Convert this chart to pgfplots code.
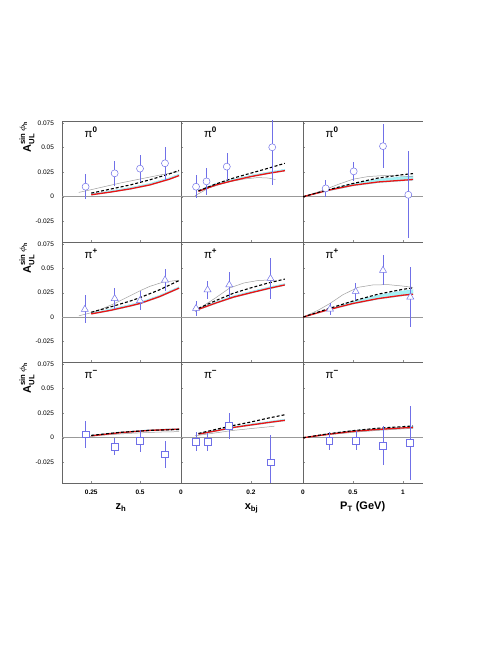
\documentclass[border=0pt]{standalone}
\usepackage{pgfplots}
\pgfplotsset{compat=1.18}
\usepackage{amsmath}
\usepackage{fontspec}
\setmainfont{Liberation Sans}

\definecolor{datablue}{RGB}{112,112,232}
\definecolor{theored}{RGB}{235,20,20}
\definecolor{bandcyan}{RGB}{165,242,245}

\pgfplotsset{
  panel/.style={scale only axis, anchor=south west,
    ymin=-0.046, ymax=0.077, scaled y ticks=false, scaled x ticks=false,
    ytick={-0.025,0,0.025,0.05,0.075}, yticklabels={}, xticklabels={},
    tick pos=left, tick align=inside, major tick length=2pt,
    axis line style={black!60, line width=0.8pt},
    tick style={black!45, line width=0.4pt},
    yticklabel style={font=\fontsize{6.5}{7}\selectfont, xshift=-4.5pt},
    xticklabel style={font=\bfseries\fontsize{6.5}{7}\selectfont, yshift=-3pt},
    clip=true},
  zcol/.style={xmin=0.1, xmax=0.71, xtick={0.25,0.5}, width=119pt},
  xcol/.style={xmin=0, xmax=0.349, xtick={0,0.2}, width=122pt},
  pcol/.style={xmin=0, xmax=1.2, xtick={0,0.5,1}, width=120pt,
    axis y line*=left, y axis line style={-}},
  ylab/.style={yticklabels={-0.025,0,0.025,0.05,0.075}},
  gline/.style={gray!75, line width=0.5pt, no marks},
  rline/.style={theored, line width=1.3pt, no marks},
  dline/.style={black, line width=1.1pt, dash pattern=on 3pt off 2pt, no marks},
  band/.style={fill=bandcyan, draw=cyan!60, densely dotted, line width=0.4pt, no marks},
  zline/.style={gray!80, line width=0.7pt, no marks},
  pts/.style={only marks, mark options={draw=datablue, fill=white, line width=0.5pt, solid},
    error bars/.cd, y dir=both, y explicit, error mark=none,
    error bar style={datablue, line width=0.55pt}},
}
\newcommand{\plab}[1]{\node[anchor=base west, font=\fontsize{11.5}{12}\selectfont] at (rel axis cs:0.16,0.865) {π\textsuperscript{\bfseries #1}};}

\begin{document}
\begin{tikzpicture}
\fill[white] (0,0) rectangle (498pt,645pt);
\path[use as bounding box] (0,0) rectangle (498pt,645pt);

% ---------------- row 1: pi0 ----------------
\begin{axis}[panel, zcol, ylab, at={(62pt,403pt)}, height=121pt]
  \addplot[zline] coordinates {(0.1,0)(0.71,0)};
  \addplot[band] coordinates {(0.25,0.0030)(0.35,0.0062)(0.45,0.0095)(0.55,0.0137)(0.65,0.0195)(0.70,0.0232)
    (0.70,0.0210)(0.65,0.0173)(0.55,0.0115)(0.45,0.0075)(0.35,0.0043)(0.25,0.0015)};
  \addplot[gline] coordinates {(0.186,0.0044)(0.25,0.0072)(0.30,0.0095)(0.40,0.0140)(0.50,0.0180)(0.60,0.0220)(0.70,0.0255)};
  \addplot[rline] coordinates {(0.25,0.0020)(0.35,0.0048)(0.45,0.0080)(0.55,0.0120)(0.65,0.0178)(0.70,0.0215)};
  \addplot[dline] coordinates {(0.25,0.0037)(0.35,0.0078)(0.45,0.0120)(0.55,0.0172)(0.65,0.0232)(0.70,0.0268)};
  \addplot[mark=*, mark size=3.5pt, pts] coordinates {
    (0.221,0.0102) +- (0,0.0128) (0.37,0.0238) +- (0,0.0124)
    (0.50,0.0286) +- (0,0.0140) (0.628,0.0340) +- (0,0.0170)};
  \plab{0}
\end{axis}

\begin{axis}[panel, xcol, at={(181pt,403pt)}, height=121pt]
  \addplot[zline] coordinates {(0,0)(0.349,0)};
  \addplot[band] coordinates {(0.05,0.0065)(0.10,0.0135)(0.15,0.0180)(0.20,0.0220)(0.25,0.0253)(0.297,0.0280)
    (0.297,0.0260)(0.25,0.0233)(0.20,0.0200)(0.15,0.0160)(0.10,0.0115)(0.05,0.0050)};
  \addplot[gline] coordinates {(0.04,0.0010)(0.08,0.0090)(0.13,0.0145)(0.18,0.0180)(0.22,0.0195)(0.25,0.0190)(0.27,0.0175)};
  \addplot[rline] coordinates {(0.05,0.0055)(0.10,0.0120)(0.15,0.0165)(0.20,0.0205)(0.25,0.0238)(0.297,0.0265)};
  \addplot[dline] coordinates {(0.05,0.0060)(0.10,0.0130)(0.15,0.0190)(0.20,0.0240)(0.25,0.0290)(0.297,0.0340)};
  \addplot[mark=*, mark size=3.5pt, pts] coordinates {
    (0.043,0.0102) +- (0,0.0118) (0.073,0.0156) +- (0,0.0135)
    (0.131,0.0306) +- (0,0.0136) (0.261,0.0503) +- (0,0.0380)};
  \plab{0}
\end{axis}

\begin{axis}[panel, pcol, at={(303pt,403pt)}, height=121pt]
  \addplot[zline] coordinates {(0,0)(1.2,0)};
  \addplot[band] coordinates {(0,0)(0.25,0.0072)(0.50,0.0135)(0.75,0.0180)(1.00,0.0205)(1.10,0.0212)
    (1.10,0.0167)(1.00,0.0160)(0.75,0.0142)(0.50,0.0109)(0.25,0.0057)(0,0)};
  \addplot[gline] coordinates {(0,0)(0.20,0.0065)(0.35,0.0125)(0.50,0.0178)(0.65,0.0205)(0.80,0.0215)(0.95,0.0212)(1.10,0.0205)};
  \addplot[rline] coordinates {(0,0)(0.25,0.0065)(0.50,0.0117)(0.75,0.0150)(1.00,0.0168)(1.10,0.0175)};
  \addplot[dline] coordinates {(0,0)(0.25,0.0070)(0.50,0.0135)(0.75,0.0190)(1.00,0.0225)(1.10,0.0235)};
  \addplot[mark=*, mark size=3.5pt, pts] coordinates {
    (0.227,0.0085) +- (0,0.0090) (0.507,0.0258) +- (0,0.0097)
    (0.80,0.0514) +- (0,0.0225) (1.053,0.0020) +- (0,0.0440)};
  \plab{0}
\end{axis}

% ---------------- row 2: pi+ ----------------
\begin{axis}[panel, zcol, ylab, at={(62pt,283pt)}, height=120pt]
  \addplot[zline] coordinates {(0.1,0)(0.71,0)};
  \addplot[band] coordinates {(0.25,0.0045)(0.35,0.0085)(0.45,0.0130)(0.50,0.0155)(0.60,0.0225)(0.70,0.0312)
    (0.70,0.0290)(0.60,0.0203)(0.50,0.0133)(0.45,0.0108)(0.35,0.0063)(0.25,0.0028)};
  \addplot[gline] coordinates {(0.186,0.0013)(0.25,0.0045)(0.30,0.0080)(0.37,0.0140)(0.45,0.0220)(0.50,0.0270)(0.55,0.0315)(0.62,0.0360)(0.70,0.0378)};
  \addplot[rline] coordinates {(0.25,0.0033)(0.35,0.0070)(0.45,0.0115)(0.50,0.0140)(0.60,0.0210)(0.70,0.0297)};
  \addplot[dline] coordinates {(0.25,0.0050)(0.35,0.0105)(0.45,0.0165)(0.50,0.0200)(0.60,0.0280)(0.70,0.0375)};
  \addplot[mark=triangle*, mark size=4pt, pts] coordinates {
    (0.217,0.0080) +- (0,0.0145) (0.37,0.0190) +- (0,0.0110)
    (0.50,0.0170) +- (0,0.0095) (0.628,0.0380) +- (0,0.0117)};
  \plab{+}
\end{axis}

\begin{axis}[panel, xcol, at={(181pt,283pt)}, height=120pt]
  \addplot[zline] coordinates {(0,0)(0.349,0)};
  \addplot[band] coordinates {(0.05,0.0090)(0.10,0.0158)(0.15,0.0220)(0.20,0.0265)(0.25,0.0308)(0.297,0.0345)
    (0.297,0.0323)(0.25,0.0286)(0.20,0.0243)(0.15,0.0198)(0.10,0.0138)(0.05,0.0073)};
  \addplot[gline] coordinates {(0.04,0.0056)(0.07,0.0130)(0.10,0.0200)(0.14,0.0300)(0.18,0.0350)(0.22,0.0375)(0.25,0.0380)(0.27,0.0370)};
  \addplot[rline] coordinates {(0.05,0.0080)(0.10,0.0145)(0.15,0.0205)(0.20,0.0250)(0.25,0.0293)(0.297,0.0330)};
  \addplot[dline] coordinates {(0.05,0.0090)(0.10,0.0170)(0.15,0.0245)(0.20,0.0300)(0.25,0.0350)(0.297,0.0390)};
  \addplot[mark=triangle*, mark size=4pt, pts] coordinates {
    (0.043,0.0090) +- (0,0.0080) (0.076,0.0280) +- (0,0.0090)
    (0.138,0.0330) +- (0,0.0130) (0.256,0.0396) +- (0,0.0210)};
  \plab{+}
\end{axis}

\begin{axis}[panel, pcol, at={(303pt,283pt)}, height=120pt]
  \addplot[zline] coordinates {(0,0)(1.2,0)};
  \addplot[band] coordinates {(0,0)(0.25,0.0080)(0.50,0.0160)(0.75,0.0225)(1.00,0.0270)(1.10,0.0282)
    (1.10,0.0227)(1.00,0.0217)(0.75,0.0182)(0.50,0.0132)(0.25,0.0067)(0,0)};
  \addplot[gline] coordinates {(0,0)(0.15,0.0070)(0.27,0.0140)(0.40,0.0230)(0.55,0.0305)(0.70,0.0330)(0.85,0.0333)(1.00,0.0318)(1.10,0.0305)};
  \addplot[rline] coordinates {(0,0)(0.25,0.0075)(0.50,0.0140)(0.75,0.0190)(1.00,0.0225)(1.10,0.0235)};
  \addplot[dline] coordinates {(0,0)(0.25,0.0085)(0.50,0.0165)(0.75,0.0235)(1.00,0.0285)(1.10,0.0300)};
  \addplot[mark=triangle*, mark size=4pt, pts] coordinates {
    (0.27,0.0083) +- (0,0.0060) (0.527,0.0263) +- (0,0.0090)
    (0.80,0.0480) +- (0,0.0155) (1.073,0.0206) +- (0,0.0310)};
  \plab{+}
\end{axis}

% ---------------- row 3: pi- ----------------
\begin{axis}[panel, zcol, ylab, at={(62pt,162pt)}, height=121pt,
    xticklabels={0.25,0.5}]
  \addplot[zline] coordinates {(0.1,0)(0.71,0)};
  \addplot[band] coordinates {(0.25,0.0028)(0.40,0.0060)(0.55,0.0083)(0.70,0.0096)
    (0.70,0.0082)(0.55,0.0069)(0.40,0.0046)(0.25,0.0015)};
  \addplot[gline] coordinates {(0.186,0.0000)(0.30,0.0025)(0.45,0.0045)(0.60,0.0058)(0.70,0.0062)};
  \addplot[rline] coordinates {(0.25,0.0020)(0.40,0.0052)(0.55,0.0075)(0.70,0.0088)};
  \addplot[dline] coordinates {(0.25,0.0024)(0.40,0.0055)(0.55,0.0075)(0.70,0.0084)};
  \addplot[mark=square*, mark size=3.3pt, pts] coordinates {
    (0.221,0.0034) +- (0,0.0137) (0.37,-0.0090) +- (0,0.0088)
    (0.50,-0.0030) +- (0,0.0110) (0.628,-0.0166) +- (0,0.0137)};
  \plab{−}
\end{axis}

\begin{axis}[panel, xcol, at={(181pt,162pt)}, height=121pt,
    xticklabels={0,0.2}]
  \addplot[zline] coordinates {(0,0)(0.349,0)};
  \addplot[band] coordinates {(0.05,0.0045)(0.10,0.0080)(0.15,0.0115)(0.20,0.0142)(0.25,0.0167)(0.297,0.0190)
    (0.297,0.0170)(0.25,0.0148)(0.20,0.0123)(0.15,0.0098)(0.10,0.0063)(0.05,0.0031)};
  \addplot[gline] coordinates {(0.04,0.0020)(0.15,0.0075)(0.267,0.0117)};
  \addplot[rline] coordinates {(0.05,0.0037)(0.10,0.0070)(0.15,0.0105)(0.20,0.0130)(0.25,0.0155)(0.297,0.0177)};
  \addplot[dline] coordinates {(0.05,0.0044)(0.10,0.0085)(0.15,0.0125)(0.20,0.0160)(0.25,0.0200)(0.297,0.0234)};
  \addplot[mark=square*, mark size=3.3pt, pts] coordinates {
    (0.043,-0.0040) +- (0,0.0095) (0.076,-0.0040) +- (0,0.0090)
    (0.137,0.0120) +- (0,0.0133) (0.256,-0.0250) +- (0,0.0280)};
  \plab{−}
\end{axis}

\begin{axis}[panel, pcol, at={(303pt,162pt)}, height=121pt,
    xticklabels={0,0.5,1}]
  \addplot[zline] coordinates {(0,0)(1.2,0)};
  \addplot[band] coordinates {(0,0)(0.25,0.0042)(0.50,0.0074)(0.75,0.0095)(1.00,0.0110)(1.10,0.0116)
    (1.10,0.0098)(1.00,0.0093)(0.75,0.0078)(0.50,0.0058)(0.25,0.0029)(0,0)};
  \addplot[gline] coordinates {(0,0)(0.25,0.0030)(0.50,0.0055)(0.75,0.0075)(1.00,0.0090)(1.10,0.0094)};
  \addplot[rline] coordinates {(0,0)(0.25,0.0035)(0.50,0.0065)(0.75,0.0085)(1.00,0.0100)(1.10,0.0105)};
  \addplot[dline] coordinates {(0,0)(0.25,0.0040)(0.50,0.0072)(0.75,0.0097)(1.00,0.0113)(1.10,0.0120)};
  \addplot[mark=square*, mark size=3.3pt, pts] coordinates {
    (0.263,-0.0030) +- (0,0.0090) (0.53,-0.0030) +- (0,0.0095)
    (0.80,-0.0080) +- (0,0.0195) (1.07,-0.0050) +- (0,0.0375)};
  \plab{−}
\end{axis}

% y labels
\foreach \yy in {527,406,286}{
  \node[rotate=90, anchor=base east, font=\fontsize{11}{12}\selectfont\bfseries]
    at (31pt,\yy pt) {A$_{\text{\bfseries UL}}^{\text{\bfseries sin}\,\boldsymbol{\phi}_{\text{\bfseries h}}}$};
}
% x labels
\node[anchor=base, font=\fontsize{11}{12}\selectfont\bfseries] at (121pt,135pt) {z\textsubscript{h}};
\node[anchor=base, font=\fontsize{11}{12}\selectfont\bfseries] at (251.5pt,135pt) {x\textsubscript{bj}};
\node[anchor=base, font=\fontsize{11}{12}\selectfont\bfseries] at (362.7pt,135pt) {P\textsubscript{T} (GeV)};
\end{tikzpicture}
\end{document}
